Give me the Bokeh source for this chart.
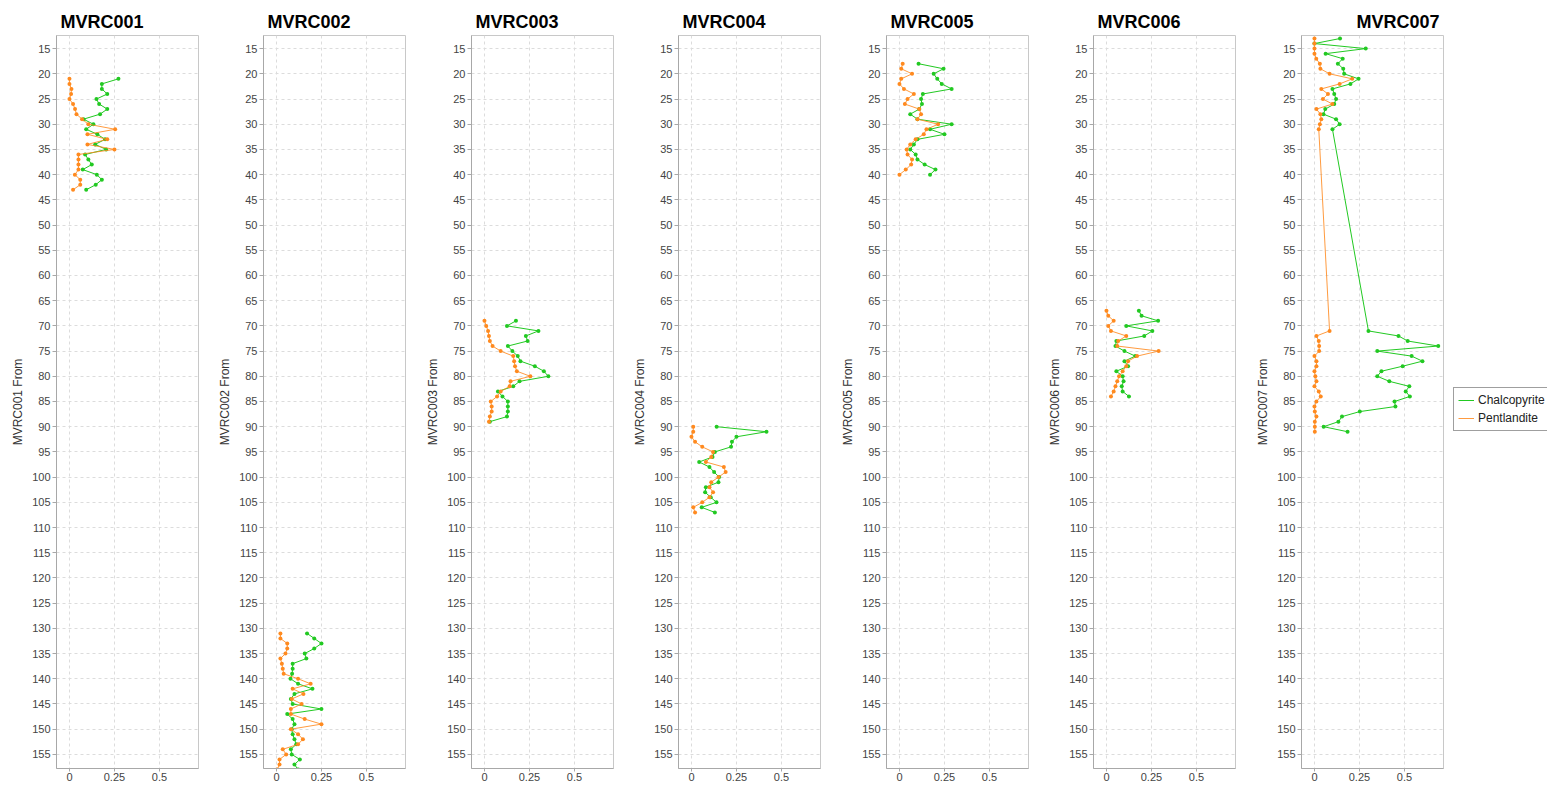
from bokeh.plotting import figure
from bokeh.layouts import row
from bokeh.models import Range1d, FixedTicker, Legend, LegendItem
from bokeh.embed import file_html
from bokeh.resources import INLINE

holes = ["MVRC001", "MVRC002", "MVRC003", "MVRC004", "MVRC005", "MVRC006", "MVRC007"]

# MVRC001
d1 = list(range(21, 44))
cp1 = [0.272, 0.18, 0.18, 0.21, 0.15, 0.165, 0.21, 0.17, 0.078, 0.133, 0.093, 0.155,
       0.198, 0.143, 0.204, 0.087, 0.105, 0.124, 0.074, 0.152, 0.18, 0.146, 0.093]
pn1 = [0.0, 0.0, 0.011, 0.009, 0.0, 0.02, 0.031, 0.039, 0.07, 0.105, 0.254, 0.1,
       0.21, 0.1, 0.25, 0.05, 0.05, 0.05, 0.05, 0.03, 0.06, 0.06, 0.02]

# MVRC002
d2 = list(range(131, 159))
cp2 = [0.17, 0.21, 0.25, 0.21, 0.157, 0.166, 0.09, 0.09, 0.087, 0.078, 0.12, 0.2, 0.1, 0.08,
       0.09, 0.25, 0.06, 0.09, 0.1, 0.085, 0.09, 0.1, 0.11, 0.08, 0.085, 0.13, 0.1, 0.12]
pn2 = [0.022, 0.022, 0.06, 0.06, 0.05, 0.022, 0.03, 0.035, 0.04, 0.12, 0.19, 0.09, 0.15, 0.085,
       0.14, 0.08, 0.08, 0.157, 0.25, 0.08, 0.12, 0.147, 0.12, 0.035, 0.054, 0.017, 0.017, 0.004]

# MVRC003
d3 = list(range(69, 90))
cp3 = [0.175, 0.125, 0.30, 0.23, 0.24, 0.13, 0.155, 0.185, 0.2, 0.28, 0.33, 0.355, 0.195,
       0.16, 0.075, 0.1, 0.13, 0.13, 0.13, 0.125, 0.03]
pn3 = [0.0, 0.01, 0.02, 0.025, 0.03, 0.045, 0.09, 0.16, 0.165, 0.17, 0.18, 0.255, 0.145,
       0.14, 0.09, 0.07, 0.035, 0.04, 0.04, 0.03, 0.025]

# MVRC004
d4 = list(range(90, 108))
cp4 = [0.14, 0.417, 0.25, 0.225, 0.22, 0.13, 0.117, 0.043, 0.10, 0.126, 0.154, 0.15,
       0.08, 0.076, 0.107, 0.139, 0.057, 0.13]
pn4 = [0.01, 0.01, 0.0, 0.02, 0.06, 0.12, 0.11, 0.08, 0.18, 0.19, 0.15, 0.11,
       0.10, 0.12, 0.1, 0.06, 0.01, 0.02]

# MVRC005
d5 = list(range(18, 41))
cp5 = [0.106, 0.245, 0.19, 0.21, 0.235, 0.29, 0.13, 0.12, 0.125, 0.11, 0.06, 0.1,
       0.29, 0.17, 0.25, 0.10, 0.08, 0.06, 0.09, 0.10, 0.14, 0.2, 0.17]
pn5 = [0.018, 0.01, 0.07, 0.01, 0.0, 0.025, 0.08, 0.045, 0.03, 0.11, 0.12, 0.10,
       0.215, 0.15, 0.135, 0.09, 0.06, 0.04, 0.045, 0.07, 0.065, 0.035, 0.0]

# MVRC006
d6 = list(range(67, 85))
cp6 = [0.18, 0.195, 0.287, 0.11, 0.255, 0.21, 0.055, 0.05, 0.10, 0.16, 0.10, 0.12,
       0.055, 0.09, 0.095, 0.085, 0.09, 0.125]
pn6 = [0.0, 0.01, 0.04, 0.01, 0.025, 0.11, 0.065, 0.06, 0.29, 0.17, 0.12, 0.11,
       0.09, 0.07, 0.06, 0.05, 0.04, 0.025]

# MVRC007
d7 = list(range(13, 32)) + list(range(71, 92))
cp7 = [0.142, 0.0, 0.285, 0.062, 0.157, 0.13, 0.16, 0.165, 0.245, 0.2, 0.1, 0.11, 0.12,
       0.11, 0.06, 0.05, 0.12, 0.14, 0.1,
       0.30, 0.467, 0.518, 0.688, 0.349, 0.54, 0.6, 0.49, 0.372, 0.349, 0.416, 0.527,
       0.507, 0.53, 0.445, 0.45, 0.252, 0.153, 0.133, 0.051, 0.184]
pn7 = [0.0, 0.0, 0.0, 0.0, 0.01, 0.03, 0.033, 0.084, 0.21, 0.14, 0.038, 0.075, 0.047,
       0.1, 0.011, 0.033, 0.038, 0.03, 0.024,
       0.084, 0.011, 0.024, 0.026, 0.026, 0.0, 0.011, 0.011, 0.0, 0.005, 0.011, 0.0,
       0.024, 0.035, 0.011, 0.0, 0.002, 0.011, 0.002, 0.002, 0.002]

depths = [d1, d2, d3, d4, d5, d6, d7]
chalco = [cp1, cp2, cp3, cp4, cp5, cp6, cp7]
pentl = [pn1, pn2, pn3, pn4, pn5, pn6, pn7]

series_names = ["Chalcopyrite", "Pentlandite"]
y_ticks = list(range(15, 160, 5))
x_ticks = [0, 0.25, 0.5]
x_tick_labels = {0: "0", 0.25: "0.25", 0.5: "0.5"}

GREEN = "#22c922"
ORANGE = "#ff8a1f"
FONT = "Liberation Sans"

left_borders = [56, 52, 52, 52, 52, 52, 52]
right_borders = [13, 14, 13, 14, 13, 14, 0]
title_offsets = [4, 4, 4, 4, 4, 4, 55]

figs = []
for i, name in enumerate(holes):
    last = i == len(holes) - 1
    p = figure(output_backend="svg", toolbar_location=None,
               frame_width=142, frame_height=733,
               x_range=Range1d(-0.072, 0.717), y_range=Range1d(157.8, 12.4),
               min_border_left=left_borders[i], min_border_right=right_borders[i],
               min_border_top=35, min_border_bottom=0,
               title=name)
    p.title.text_font = FONT
    p.title.text_font_size = "18px"
    p.title.text_font_style = "bold"
    p.title.align = "left"
    p.title.text_color = "#000000"
    p.title.offset = title_offsets[i]
    p.title.standoff = 8

    p.xaxis.ticker = FixedTicker(ticks=x_ticks)
    p.xaxis.major_label_overrides = x_tick_labels
    p.yaxis.ticker = FixedTicker(ticks=y_ticks)
    p.yaxis.axis_label = name + " From"
    p.yaxis.axis_label_text_font_style = "normal"
    p.yaxis.axis_label_text_font_size = "12px"
    p.yaxis.axis_label_text_font = FONT
    p.yaxis.axis_label_text_color = "#333333"
    p.yaxis.axis_label_standoff = 4
    for ax in (p.xaxis, p.yaxis):
        ax.major_label_text_font = FONT
        ax.major_label_text_font_size = "11px"
        ax.major_label_text_color = "#444444"
        ax.axis_line_color = "#a8a8a8"
        ax.axis_line_width = 1
        ax.major_tick_line_color = "#a8a8a8"
        ax.minor_tick_line_color = None
        ax.major_tick_in = 0
    p.yaxis.major_tick_out = 4
    p.yaxis.major_label_standoff = 2
    p.xaxis.major_tick_out = 3
    p.xaxis.major_label_standoff = 1
    p.outline_line_color = "#c8c8c8"
    p.grid.grid_line_color = "#dcdcdc"
    p.grid.grid_line_dash = "3 3"
    p.grid.grid_line_width = 1

    g_line = p.line(chalco[i], depths[i], line_color=GREEN, line_width=1)
    p.scatter(chalco[i], depths[i], size=4, fill_color=GREEN, line_color=None)
    o_line = p.line(pentl[i], depths[i], line_color=ORANGE, line_width=1, line_alpha=0.85)
    p.scatter(pentl[i], depths[i], size=4, fill_color=ORANGE, line_color=None)

    if last:
        legend = Legend(items=[LegendItem(label=series_names[0], renderers=[g_line]),
                               LegendItem(label=series_names[1], renderers=[o_line])],
                        location=(10, 337))
        legend.label_text_font = FONT
        legend.label_text_font_size = "12px"
        legend.label_text_color = "#222222"
        legend.border_line_color = "#404040"
        legend.border_line_width = 1
        legend.glyph_width = 16
        legend.glyph_height = 16
        legend.label_height = 16
        legend.spacing = 2
        legend.padding = 4
        legend.margin = 5
        legend.label_standoff = 4
        p.add_layout(legend, "right")
    figs.append(p)

layout = row(*figs, spacing=0)
open("out.html", "w").write(file_html(layout, INLINE))
